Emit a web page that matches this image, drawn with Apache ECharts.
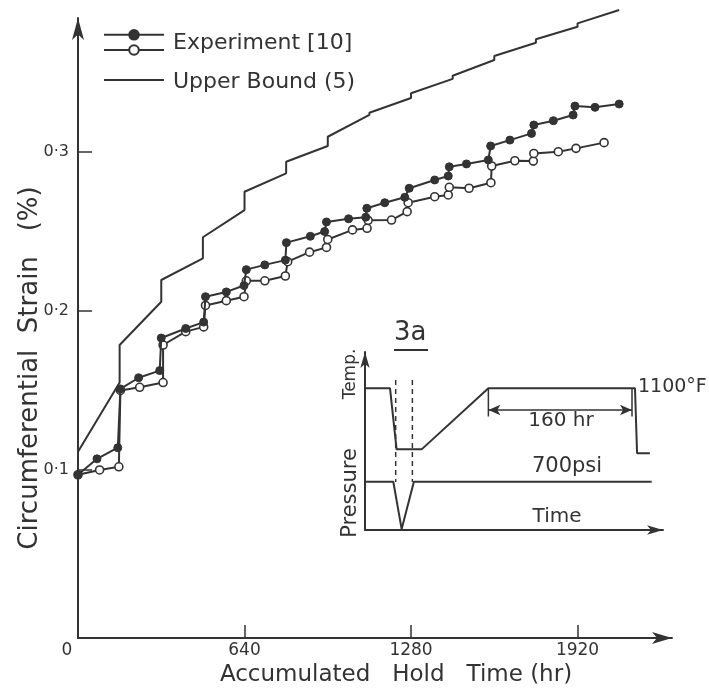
<!DOCTYPE html>
<html><head><meta charset="utf-8">
<script src="https://cdn.jsdelivr.net/npm/echarts@6/dist/echarts.min.js"></script>
<style>html,body{margin:0;padding:0;background:#fff;}#c{width:709px;height:694px;}</style>
</head><body><div id="c"></div>
<script>
// ---- main chart data: [hold time (hr), strain (%)] ----
const experimentFilled = [
  [0,0.097],[73,0.107],[153,0.114],[163,0.151],[233,0.158],[314,0.1625],[320,0.183],
  [414,0.189],[483,0.193],[490,0.209],[570,0.212],[638,0.216],[647,0.226],[718,0.229],
  [797,0.232],[801,0.243],[893,0.247],[948,0.250],[955,0.256],[1040,0.258],[1106,0.259],
  [1110,0.2646],[1179,0.2681],[1256,0.2715],[1273,0.2772],[1371,0.2824],[1423,0.2849],
  [1427,0.2907],[1493,0.2925],[1577,0.295],[1586,0.3038],[1660,0.3075],[1743,0.3117],
  [1752,0.317],[1827,0.3197],[1903,0.3233],[1910,0.3289],[1987,0.3281],[2080,0.3302]
];
const experimentOpen = [
  [0,0.097],[83,0.100],[157,0.102],[163,0.150],[237,0.152],[327,0.155],[327,0.1786],
  [414,0.187],[483,0.190],[490,0.2035],[570,0.2065],[638,0.209],[647,0.219],[718,0.219],
  [797,0.222],[806,0.231],[890,0.237],[955,0.240],[960,0.245],[1055,0.251],[1111,0.252],
  [1115,0.257],[1205,0.2572],[1265,0.2625],[1269,0.2681],[1371,0.2719],[1423,0.273],
  [1427,0.2778],[1503,0.2772],[1587,0.2807],[1590,0.2912],[1679,0.2945],[1750,0.2943],
  [1752,0.2991],[1846,0.3002],[1914,0.3023],[2022,0.3059]
];
const upperBound = [
  [0,0.1115],[160,0.155],[160,0.1786],[320,0.2058],[320,0.2195],[480,0.2331],[480,0.2464],
  [640,0.2635],[640,0.275],[800,0.2866],[800,0.2939],[960,0.3038],[960,0.3096],
  [1120,0.3233],[1120,0.3247],[1280,0.334],[1280,0.337],[1440,0.346],[1440,0.348],
  [1600,0.3579],[1600,0.3604],[1760,0.3687],[1760,0.3709],[1920,0.3788],[1920,0.3809],
  [2080,0.3893]
];
const xTickValues = [640, 1280, 1920];
const xLabelValues = [0, 640, 1280, 1920];
const yTickValues = [0.1, 0.2, 0.3];

// ---- inset schematic (arbitrary units 0..100) ----
const insetTemp = [[0,79.6],[8.4,79.6],[10.6,45.3],[19.0,45.3],[41.4,79.6],[90.6,79.6],[91.3,43.1],[95.6,43.1]];
const insetPressure = [[0,27.1],[9.5,27.1],[12.3,0.5],[16.4,27.1],[96.2,27.1]];
const insetDash1 = [[10.3,84.3],[10.3,27]];
const insetDash2 = [[15.9,84.3],[15.9,27]];
const insetTick1 = [[41.4,79.6],[41.4,63.7]];
const insetTick2 = [[89.6,79.6],[89.6,63.7]];
const insetSpan = [41.4, 89.6, 67.4];

const INK = '#333';
const FONT = 'DejaVu Sans';
const chart = echarts.init(document.getElementById('c'), null, {renderer:'canvas'});

function insetLine(data, extra) {
  return Object.assign({
    type:'line', xAxisIndex:1, yAxisIndex:1, data:data, symbol:'none', silent:true,
    lineStyle:{color:INK, width:2}, legendHoverLink:false
  }, extra||{});
}

chart.setOption({
  animation:false,
  backgroundColor:'#fff',
  textStyle:{fontFamily:FONT, color:INK},
  grid:[
    {left:78, right:37, top:18, bottom:56},
    {left:365, top:352, width:298, height:178}
  ],
  legend:[
    {data:['Experiment [10]'], left:103, top:29, padding:0, itemWidth:60, itemHeight:12,
     selectedMode:false, formatter:'{a|{name}}',
     textStyle:{rich:{a:{fontSize:22, color:INK, fontFamily:FONT, padding:[16,0,0,4]}}}},
    {data:['Experiment [10] (open)'], left:103, top:44, padding:0, itemWidth:60, itemHeight:12,
     selectedMode:false, formatter:function(){return '';}, textStyle:{fontSize:10}},
    {data:[{name:'Upper Bound (5)', itemStyle:{opacity:0}}], left:103, top:71, padding:0, itemWidth:60, itemHeight:12,
     selectedMode:false, formatter:'{a|{name}}',
     textStyle:{rich:{a:{fontSize:22, color:INK, fontFamily:FONT, padding:[4,0,0,4]}}}}
  ],
  xAxis:[
    {type:'value', gridIndex:0, min:0, max:2283,
     name:'Accumulated   Hold   Time (hr)', nameLocation:'middle', nameGap:26, nameMoveOverlap:false,
     nameTextStyle:{fontSize:23, color:INK, fontFamily:FONT, padding:[0,0,0,42]},
     axisLine:{show:true, onZero:false, symbol:['none','arrow'], symbolSize:[9,20], symbolOffset:[0,0],
       lineStyle:{color:INK, width:2}},
     axisTick:{show:true, inside:true, length:13, customValues:xTickValues, lineStyle:{color:INK, width:1.5}},
     axisLabel:{show:true, customValues:xLabelValues, fontSize:17, color:INK, fontFamily:FONT, margin:4,
       formatter:function(v){return v===0 ? '{z|0}' : String(v);},
       rich:{z:{fontSize:17, color:INK, fontFamily:FONT, padding:[0,22,0,0]}}},
     splitLine:{show:false}},
    {type:'value', gridIndex:1, min:0, max:100,
     axisLine:{show:true, onZero:false, symbol:['none','arrow'], symbolSize:[7,16], lineStyle:{color:INK, width:2}},
     axisTick:{show:false}, axisLabel:{show:false}, splitLine:{show:false}}
  ],
  yAxis:[
    {type:'value', gridIndex:0, min:-0.0057, max:0.3843,
     name:'Circumferential  Strain   (%)', nameLocation:'middle', nameGap:35, nameRotate:90, nameMoveOverlap:false,
     nameTextStyle:{fontSize:26, color:INK, fontFamily:FONT, padding:[0,80,0,0]},
     axisLine:{show:true, onZero:false, symbol:['none','arrow'], symbolSize:[9,22], lineStyle:{color:INK, width:2}},
     axisTick:{show:true, inside:true, length:14, customValues:yTickValues, lineStyle:{color:INK, width:1.5}},
     axisLabel:{show:true, customValues:yTickValues, fontSize:16, color:INK, fontFamily:FONT, margin:9,
       formatter:function(v){return v.toFixed(1).replace('.', '\u00b7');}},
     splitLine:{show:false}},
    {type:'value', gridIndex:1, min:0, max:100,
     axisLine:{show:true, onZero:false, symbol:['none','arrow'], symbolSize:[7,16], lineStyle:{color:INK, width:2}},
     axisTick:{show:false}, axisLabel:{show:false}, splitLine:{show:false}}
  ],
  series:[
    {name:'Upper Bound (5)', type:'line', data:upperBound, symbol:'none', clip:false,
     lineStyle:{color:INK, width:2}, itemStyle:{color:INK}},
    {name:'Experiment [10] (open)', type:'line', data:experimentOpen, symbol:'circle', symbolSize:8, clip:false,
     lineStyle:{color:INK, width:2}, itemStyle:{color:'#fff', borderColor:INK, borderWidth:1.6}, z:3},
    {name:'Experiment [10]', type:'line', data:experimentFilled, symbol:'circle', symbolSize:8, clip:false,
     lineStyle:{color:INK, width:2}, itemStyle:{color:INK, borderColor:INK, borderWidth:1}, z:4},
    insetLine(insetTemp),
    insetLine(insetPressure),
    insetLine(insetDash1, {lineStyle:{color:INK, width:1.5, type:[5,4]}}),
    insetLine(insetDash2, {lineStyle:{color:INK, width:1.5, type:[5,4]}}),
    insetLine(insetTick1, {lineStyle:{color:INK, width:1.5}}),
    insetLine(insetTick2, {lineStyle:{color:INK, width:1.5},
      markLine:{silent:true, symbol:['arrow','arrow'], symbolSize:[8,12], label:{show:false},
        lineStyle:{color:INK, width:1.5, type:'solid'},
        data:[[{coord:[insetSpan[0], insetSpan[2]]},{coord:[insetSpan[1], insetSpan[2]]}]]}})
  ],
  graphic:[
    {type:'text', left:394, top:320, style:{text:'3a', font:'26px "DejaVu Sans"', fill:INK}},
    {type:'line', shape:{x1:394, y1:350, x2:428, y2:350}, style:{stroke:INK, lineWidth:2}},
    {type:'text', x:561, y:421, style:{text:'160 hr', font:'20px "DejaVu Sans"', fill:INK, align:'center', verticalAlign:'middle'}},
    {type:'text', x:638, y:387, style:{text:'1100\u00b0F', font:'19px "DejaVu Sans"', fill:INK, align:'left', verticalAlign:'middle'}},
    {type:'text', x:567, y:467, style:{text:'700psi', font:'21px "DejaVu Sans"', fill:INK, align:'center', verticalAlign:'middle'}},
    {type:'text', x:557, y:517, style:{text:'Time', font:'20px "DejaVu Sans"', fill:INK, align:'center', verticalAlign:'middle'}},
    {type:'text', x:351, y:374, rotation:Math.PI/2, style:{text:'Temp.', font:'17px "DejaVu Sans"', fill:INK, align:'center', verticalAlign:'middle'}},
    {type:'text', x:351, y:493, rotation:Math.PI/2, style:{text:'Pressure', font:'21px "DejaVu Sans"', fill:INK, align:'center', verticalAlign:'middle'}}
  ]
});
</script></body></html>
